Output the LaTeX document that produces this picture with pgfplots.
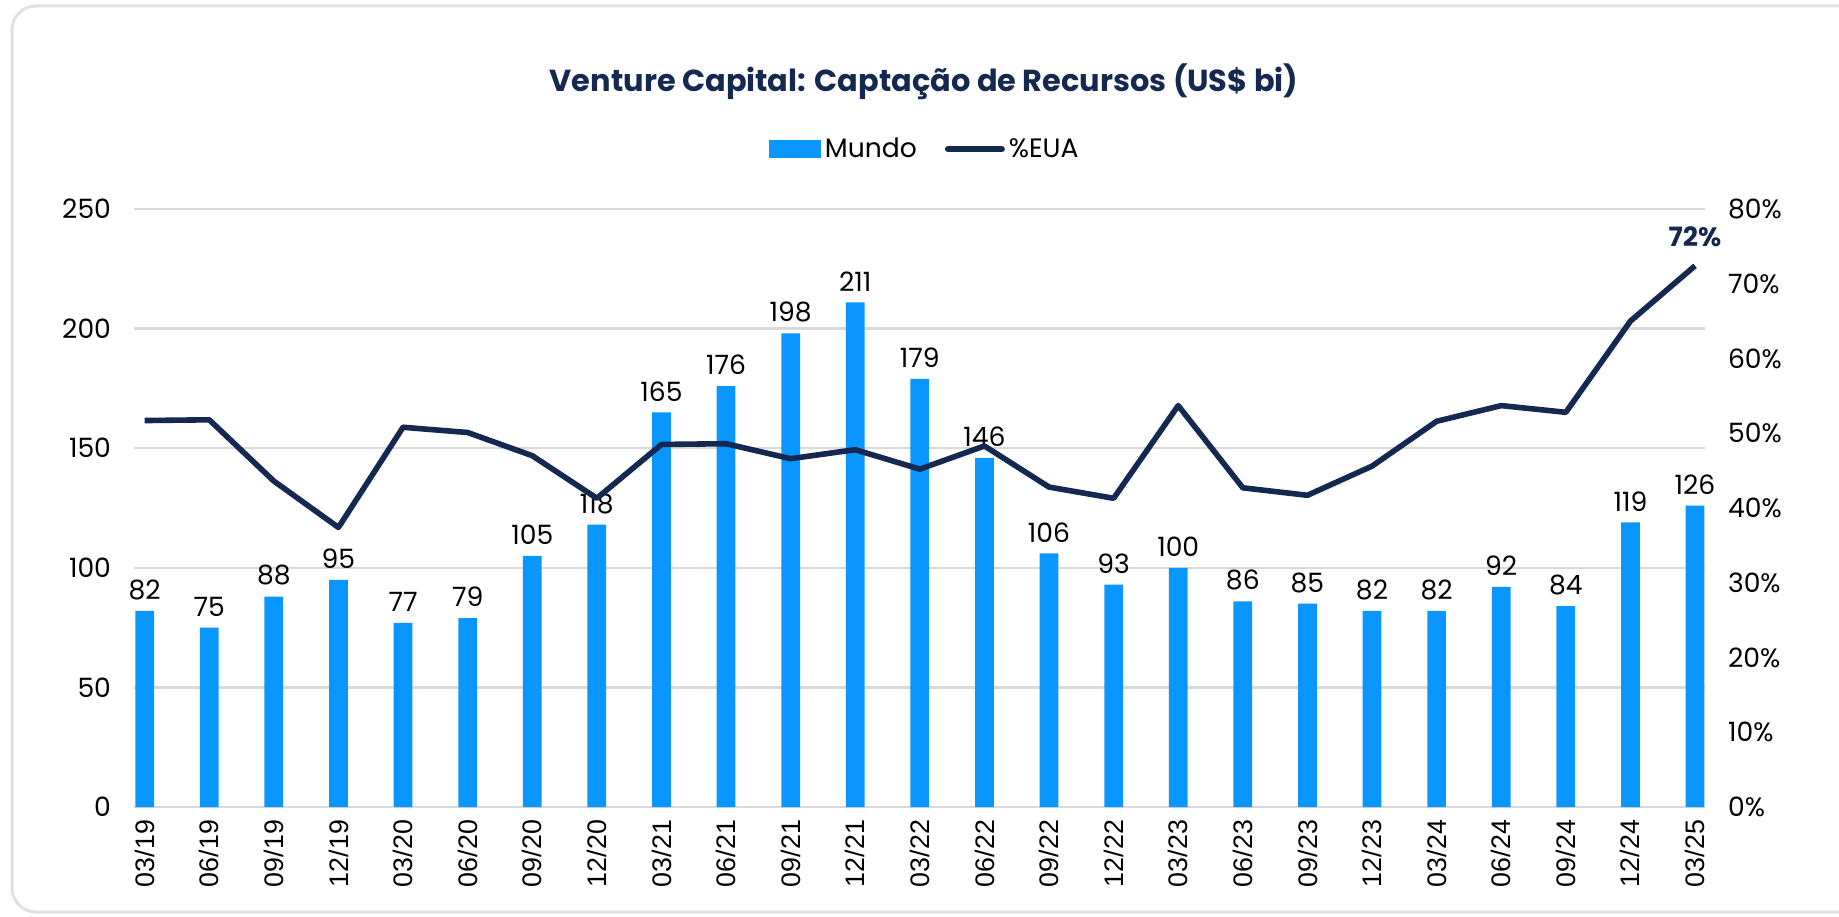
\documentclass[border=0pt]{standalone}
\usepackage{pgfplots}
\pgfplotsset{compat=1.18}
\usepackage{fontspec}
\setmainfont{Poppins}
\newfontfamily\arialfont{Liberation Sans}
\definecolor{barblue}{RGB}{10,150,255}
\definecolor{navy}{RGB}{20,40,80}
\definecolor{gridgray}{RGB}{217,217,217}
\definecolor{cardgray}{RGB}{225,225,225}

\begin{document}
\begin{tikzpicture}[x=1pt,y=1pt]
\useasboundingbox (0,0) rectangle (919.5,458);
\draw[color=cardgray, line width=1.5pt, rounded corners=12pt] (6,2) rectangle (980,455);
\node[font=\fontsize{15.2}{18}\selectfont\bfseries, text=navy] at (462,417) {Venture Capital: Captação de Recursos (US\$ bi)};

\begin{axis}[
  at={(67pt,54.5pt)}, anchor=south west, scale only axis,
  width=785.5pt, height=299pt,
  xmin=0, xmax=24.32, ymin=0, ymax=250,
  axis line style={draw=none},
  ytick={0,50,...,250},
  ymajorgrids, major grid style={draw=gridgray, line width=1.2pt},
  ytick pos=left, major y tick style={draw=none},
  yticklabel style={font=\fontsize{13.3}{15}\selectfont, xshift=-8pt},
  xtick={0.165,1.165,2.165,3.165,4.165,5.165,6.165,7.165,8.165,9.165,10.165,11.165,12.165,13.165,14.165,15.165,16.165,17.165,18.165,19.165,20.165,21.165,22.165,23.165,24.165},
  xticklabels={03/19,06/19,09/19,12/19,03/20,06/20,09/20,12/20,03/21,06/21,09/21,12/21,03/22,06/22,09/22,12/22,03/23,06/23,09/23,12/23,03/24,06/24,09/24,12/24,03/25},
  xticklabel style={rotate=90, anchor=east, font=\arialfont\fontsize{13.4}{15}\selectfont, xshift=-3pt},
  major x tick style={draw=none},
  xtick pos=bottom,
  extra x ticks={0,1,2,3,4,5,6,7,8,9,10,11,12,13,14,15,16,17,18,19,20,21,22,23,24},
  extra x tick labels={},
  extra x tick style={xtick align=outside, major tick length=6pt, tick style={draw=gridgray, line width=1pt}, xmajorgrids=false},
  /pgf/number format/assume math mode=true,
  legend style={at={(0.504,1.10)}, anchor=center, draw=none, fill=none, legend columns=2,
    font=\fontsize{13.3}{15}\selectfont, /tikz/every even column/.append style={column sep=12pt},
    /tikz/every odd column/.append style={column sep=0pt}, inner xsep=0pt},
  legend cell align=left,
]
\addplot[ybar, bar width=0.29, bar shift=0pt, fill=barblue, draw=none,
  legend image code/.code={\fill[barblue] (-6pt,-4.5pt) rectangle (20pt,4.5pt);},
  nodes near coords, every node near coord/.append style={font=\fontsize{13.3}{15}\selectfont, text=black, yshift=2pt}]
coordinates {
(0.165,82) (1.165,75) (2.165,88) (3.165,95) (4.165,77) (5.165,79) (6.165,105) (7.165,118)
(8.165,165) (9.165,176) (10.165,198) (11.165,211) (12.165,179) (13.165,146) (14.165,106)
(15.165,93) (16.165,100) (17.165,86) (18.165,85) (19.165,82) (20.165,82) (21.165,92)
(22.165,84) (23.165,119) (24.165,126)
};
\addlegendentry{Mundo}
\addlegendimage{legend image code/.code={\draw[navy, line width=3pt, line cap=round] (-6pt,0pt) -- (21pt,0pt);}}
\addlegendentry{\%EUA}
\end{axis}

\begin{axis}[
  at={(67pt,54.5pt)}, anchor=south west, scale only axis,
  width=785.5pt, height=299pt,
  xmin=0, xmax=24.32, ymin=0, ymax=80,
  axis line style={draw=none},
  xtick=\empty,
  ytick={0,10,...,80},
  ytick pos=right, yticklabel pos=right, major y tick style={draw=none},
  yticklabel={\pgfmathprintnumber{\tick}\%},
  yticklabel style={font=\fontsize{13.3}{15}\selectfont, xshift=8pt},
  /pgf/number format/assume math mode=true,
  clip=false,
]
\addplot[navy, line width=2.8pt, line join=round, mark=none] coordinates {
(0.165,51.7) (1.165,51.8) (2.165,43.6) (3.165,37.4) (4.165,50.8) (5.165,50.1) (6.165,47.0)
(7.165,41.3) (8.165,48.5) (9.165,48.6) (10.165,46.6) (11.165,47.8) (12.165,45.2) (13.165,48.3)
(14.165,42.8) (15.165,41.3) (16.165,53.7) (17.165,42.7) (18.165,41.7) (19.165,45.6) (20.165,51.6)
(21.165,53.7) (22.165,52.8) (23.165,65.0) (24.165,72.4)
};
\addplot[draw=none, mark=none, nodes near coords={\textbf{72\%}},
  every node near coord/.append style={font=\fontsize{13.3}{15}\selectfont, text=navy, anchor=south, yshift=6pt}]
coordinates {(24.165,72.4)};
\end{axis}
\end{tikzpicture}
\end{document}
